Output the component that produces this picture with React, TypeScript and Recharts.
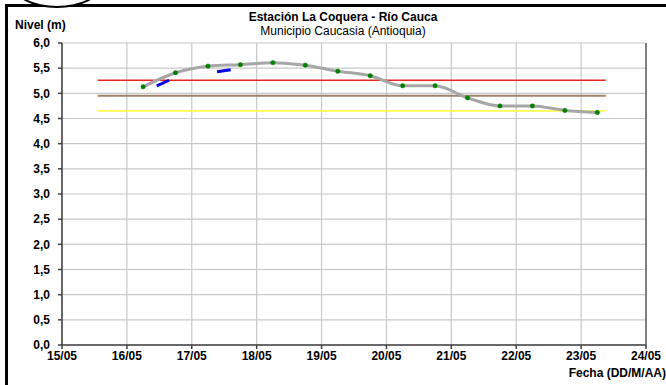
import React from "react";
import {
  LineChart,
  Line,
  XAxis,
  YAxis,
  CartesianGrid,
  ReferenceLine,
} from "recharts";

// x = days since 15/05 00:00
const fechas = [1.25, 1.75, 2.25, 2.75, 3.25, 3.75, 4.25, 4.75, 5.25, 5.75, 6.25, 6.75, 7.25, 7.75, 8.25];
const niveles = [5.13, 5.41, 5.54, 5.57, 5.61, 5.56, 5.44, 5.35, 5.15, 5.15, 4.91, 4.75, 4.75, 4.66, 4.62];

const tramoX = [0.55, 8.38];
const alertaRoja = 5.26;
const alertaCafe = 4.95;
const alertaAmarilla = 4.65;

const azul1X = [1.46, 1.65];
const azul1Y = [5.15, 5.26];
const azul2X = [2.39, 2.6];
const azul2Y = [5.43, 5.47];

const diasX = [0, 1, 2, 3, 4, 5, 6, 7, 8, 9];
const diasLabel = ["15/05", "16/05", "17/05", "18/05", "19/05", "20/05", "21/05", "22/05", "23/05", "24/05"];
const nivelTicks = [0, 0.5, 1, 1.5, 2, 2.5, 3, 3.5, 4, 4.5, 5, 5.5, 6];

const serie = fechas.map((x, i) => ({ x, y: niveles[i] }));
const horiz = (v: number) => tramoX.map((x) => ({ x, y: v }));
const azul1 = azul1X.map((x, i) => ({ x, y: azul1Y[i] }));
const azul2 = azul2X.map((x, i) => ({ x, y: azul2Y[i] }));

const font = "'Liberation Sans', Arial, sans-serif";
const tickStyle = { fontSize: 12, fontWeight: 700, fill: "#000", fontFamily: font };

export default function App() {
  return (
    <div
      style={{
        position: "absolute",
        left: 0,
        top: 0,
        width: 666,
        height: 385,
        background: "#fff",
        overflow: "hidden",
        fontFamily: font,
      }}
    >
      {/* frame */}
      <div
        style={{
          position: "absolute",
          left: 5,
          top: 4,
          width: 700,
          height: 420,
          borderLeft: "3px solid #000",
          borderTop: "3px solid #000",
        }}
      />
      {/* bit of an oval above the frame */}
      <div
        style={{
          position: "absolute",
          left: 12,
          top: -40,
          width: 86,
          height: 44,
          border: "2px solid #000",
          borderRadius: "50%",
          background: "#fff",
        }}
      />
      <div
        style={{
          position: "absolute",
          left: 0,
          top: 10,
          width: 686,
          textAlign: "center",
          fontSize: 12,
          lineHeight: "14px",
        }}
      >
        <div style={{ fontWeight: 700 }}>Estación La Coquera - Río Cauca</div>
        <div>Municipio Caucasia (Antioquia)</div>
      </div>
      <div style={{ position: "absolute", left: 15, top: 18, fontSize: 12, fontWeight: 700 }}>Nivel (m)</div>
      <div style={{ position: "absolute", right: 0, top: 366, fontSize: 12, fontWeight: 700 }}>Fecha (DD/M/AA)</div>
      <div style={{ position: "absolute", left: 0, top: 0 }}>
        <LineChart width={666} height={385} margin={{ top: 43, right: 20, bottom: 20, left: 0 }}>
          <CartesianGrid stroke="#c8c8c8" strokeWidth={1.2} />
          <XAxis
            type="number"
            dataKey="x"
            domain={[0, 9]}
            ticks={diasX}
            tickFormatter={(v: number) => diasLabel[v]}
            tick={tickStyle}
            stroke="#404040"
            strokeWidth={1.5}
            tickSize={4}
            tickMargin={2}
            height={20}
            interval={0}
            allowDataOverflow
          />
          <YAxis
            type="number"
            domain={[0, 6]}
            ticks={nivelTicks}
            tickFormatter={(v: number) => v.toFixed(1).replace(".", ",")}
            tick={tickStyle}
            stroke="#404040"
            strokeWidth={1.5}
            tickSize={4}
            tickMargin={8}
            width={62}
            interval={0}
          />
          <ReferenceLine x={9} stroke="#808080" strokeWidth={2} />
          <Line data={horiz(alertaAmarilla)} dataKey="y" stroke="#ffff33" strokeWidth={1.5} dot={false} isAnimationActive={false} />
          <Line data={horiz(alertaCafe)} dataKey="y" stroke="#a0826a" strokeWidth={2} dot={false} isAnimationActive={false} />
          <Line data={horiz(alertaRoja)} dataKey="y" stroke="#ee2222" strokeWidth={1.5} dot={false} isAnimationActive={false} />
          <Line
            data={serie}
            dataKey="y"
            type="monotone"
            stroke="#a6a6a6"
            strokeWidth={3}
            dot={{ r: 2.2, fill: "#008000", stroke: "#008000", strokeWidth: 0.5 }}
            isAnimationActive={false}
          />
          <Line data={azul1} dataKey="y" stroke="#0000ee" strokeWidth={3} dot={false} isAnimationActive={false} />
          <Line data={azul2} dataKey="y" stroke="#0000ee" strokeWidth={3} dot={false} isAnimationActive={false} />
        </LineChart>
      </div>
    </div>
  );
}
